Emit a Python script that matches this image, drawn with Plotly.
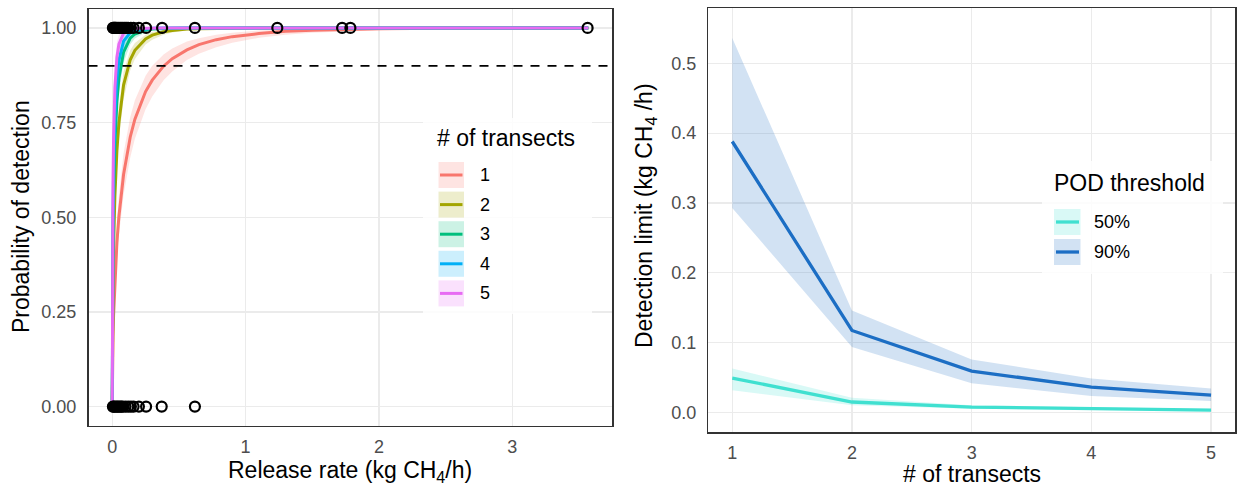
import plotly.graph_objects as go

# ---------------- data ----------------
# Left panel: fitted probability of detection vs release rate (kg CH4/h)
rate_grid = [0, 0.001, 0.003, 0.006, 0.01, 0.02, 0.035, 0.05, 0.085, 0.135, 0.17, 0.25, 0.3,
             0.385, 0.45, 0.56, 0.65, 0.78, 0.9, 1.1, 1.3, 1.5, 2.0, 2.5, 3.0, 3.57]

pod_fit_1 = [0, .069, .127, .183, .239, .336, .433, .502, .613, .712, .759, .832, .862,
             .899, .919, .942, .956, .969, .977, .985, .991, .994, .998, .999, .9995, .9998]
pod_lo_1 = [0, .060, .110, .160, .210, .297, .387, .452, .559, .658, .707, .785, .819,
            .862, .885, .915, .932, .949, .961, .974, .982, .987, .994, .997, .9986, .9993]
pod_hi_1 = [0, .080, .145, .210, .272, .378, .483, .556, .669, .765, .809, .874, .900,
            .930, .946, .964, .973, .982, .987, .993, .9956, .9972, .9991, .9996, .9999, 1.0]

pod_fit_2 = [0, .132, .236, .332, .419, .557, .676, .750, .849, .916, .941, .971, .981,
             .990, .993, .997, .998, .999, .9994, .9998, 1, 1, 1, 1, 1, 1]
pod_lo_2 = [0, .118, .211, .299, .381, .512, .630, .706, .811, .888, .918, .956, .969,
            .982, .988, .993, .996, .998, .9986, .9994, .9997, 1, 1, 1, 1, 1]
pod_hi_2 = [0, .149, .264, .368, .461, .604, .723, .794, .884, .941, .960, .982, .989,
            .9945, .9966, .9985, .9991, .9996, .9998, 1, 1, 1, 1, 1, 1, 1]

pod_fit_3 = [0, .186, .324, .443, .546, .693, .806, .867, .936, .973, .984, .994, .997,
             .9987, .9993, .9997, 1, 1, 1, 1, 1, 1, 1, 1, 1, 1]
pod_lo_3 = [0, .164, .287, .398, .495, .641, .758, .826, .908, .956, .972, .9885, .993,
            .9968, .9981, .9992, .9996, 1, 1, 1, 1, 1, 1, 1, 1, 1]
pod_hi_3 = [0, .223, .380, .512, .619, .765, .865, .915, .965, .988, .9935, .9982, .9991,
            .9997, 1, 1, 1, 1, 1, 1, 1, 1, 1, 1, 1, 1]

pod_fit_4 = [0, .222, .379, .510, .617, .763, .864, .914, .965, .9875, .9933, .9981, .9991,
             .9997, 1, 1, 1, 1, 1, 1, 1, 1, 1, 1, 1, 1]
pod_lo_4 = [0, .191, .331, .452, .555, .703, .814, .874, .941, .975, .985, .995, .997,
            .9989, .9994, 1, 1, 1, 1, 1, 1, 1, 1, 1, 1, 1]
pod_hi_4 = [0, .276, .458, .600, .709, .843, .923, .957, .986, .9964, .9984, .9997, 1,
            1, 1, 1, 1, 1, 1, 1, 1, 1, 1, 1, 1, 1]

pod_fit_5 = [0, .276, .458, .600, .709, .843, .923, .957, .986, .9964, .9984, .9997, 1,
             1, 1, 1, 1, 1, 1, 1, 1, 1, 1, 1, 1, 1]
pod_lo_5 = [0, .235, .398, .532, .641, .785, .881, .927, .972, .991, .995, .9988, .9994,
            1, 1, 1, 1, 1, 1, 1, 1, 1, 1, 1, 1, 1]
pod_hi_5 = [0, .338, .542, .689, .793, .906, .962, .982, .996, .9992, .9997, 1, 1,
            1, 1, 1, 1, 1, 1, 1, 1, 1, 1, 1, 1, 1]

transect_labels = ["1", "2", "3", "4", "5"]

# observed release rates (detected = 1, not detected = 0)
rate_detected = [0.005, 0.01, 0.015, 0.02, 0.025, 0.03, 0.04, 0.05, 0.06, 0.07, 0.08, 0.09,
                 0.1, 0.11, 0.12, 0.14, 0.16, 0.2, 0.254, 0.374, 0.62, 1.238, 1.724, 1.786, 3.565]
rate_missed = [0.005, 0.01, 0.02, 0.03, 0.04, 0.05, 0.06, 0.07, 0.08, 0.1, 0.12, 0.14,
               0.16, 0.2, 0.254, 0.371, 0.62]

POD_THRESHOLD = 0.9

# Right panel: detection limit vs number of transects
n_transects = [1, 2, 3, 4, 5]
dl50 = [0.0495, 0.0152, 0.008, 0.0057, 0.0037]
dl50_lo = [0.032, 0.0104, 0.0055, 0.0038, 0.0022]
dl50_hi = [0.063, 0.0214, 0.0105, 0.0077, 0.0052]
dl90 = [0.388, 0.1176, 0.0594, 0.0366, 0.0252]
dl90_lo = [0.293, 0.094, 0.042, 0.0238, 0.0166]
dl90_hi = [0.536, 0.146, 0.076, 0.049, 0.0347]
pod_labels = ["50%", "90%"]

# ---------------- style ----------------
W, H = 1238, 488
FONT = "Liberation Sans, Arial, sans-serif"
hue = ["#F8766D", "#A3A500", "#00BF7D", "#00B0F6", "#E76BF3"]


def rgba(hexc, a):
    h = hexc.lstrip("#")
    r, g, b = int(h[0:2], 16), int(h[2:4], 16), int(h[4:6], 16)
    return f"rgba({r},{g},{b},{a})"


def px(x):
    return x / W


def py(y):
    return 1 - y / H


fits = [pod_fit_1, pod_fit_2, pod_fit_3, pod_fit_4, pod_fit_5]
los = [pod_lo_1, pod_lo_2, pod_lo_3, pod_lo_4, pod_lo_5]
his = [pod_hi_1, pod_hi_2, pod_hi_3, pod_hi_4, pod_hi_5]

fig = go.Figure()

# bands
for i in range(5):
    fig.add_trace(go.Scatter(
        x=rate_grid + rate_grid[::-1], y=his[i] + los[i][::-1],
        fill="toself", fillcolor=rgba(hue[i], 0.2), line=dict(width=0),
        mode="lines", hoverinfo="skip", xaxis="x", yaxis="y"))
# lines
for i in range(5):
    fig.add_trace(go.Scatter(
        x=rate_grid, y=fits[i], mode="lines",
        line=dict(color=hue[i], width=3), xaxis="x", yaxis="y"))
# points
marker_style = dict(symbol="circle-open", size=10, color="black", line=dict(width=2.2))
fig.add_trace(go.Scatter(
    x=rate_detected, y=[1] * len(rate_detected), mode="markers",
    marker=marker_style, xaxis="x", yaxis="y"))
fig.add_trace(go.Scatter(
    x=rate_missed, y=[0] * len(rate_missed), mode="markers",
    marker=marker_style, xaxis="x", yaxis="y"))

# right panel
c50, c90 = "#40E0D0", "#1C6EC4"
for lo, hi, col in [(dl50_lo, dl50_hi, c50), (dl90_lo, dl90_hi, c90)]:
    fig.add_trace(go.Scatter(
        x=n_transects + n_transects[::-1], y=hi + lo[::-1], fill="toself",
        fillcolor=rgba(col, 0.2), line=dict(width=0), mode="lines",
        hoverinfo="skip", xaxis="x2", yaxis="y2"))
for vals, col in [(dl50, c50), (dl90, c90)]:
    fig.add_trace(go.Scatter(
        x=n_transects, y=vals, mode="lines", line=dict(color=col, width=3.3),
        xaxis="x2", yaxis="y2"))

axis_common = dict(
    showgrid=True, gridcolor="#EBEBEB", gridwidth=1.2, zeroline=False,
    showline=True, mirror=True, linecolor="#333333", linewidth=1.5,
    ticks="outside", tickcolor="rgba(0,0,0,0)",
    tickfont=dict(family=FONT, size=18, color="#4D4D4D"),
)
XLEN, YLEN = 4, 7

shapes = []
annotations = []

# dashed threshold line
shapes.append(dict(type="line", xref="x domain", yref="y", x0=0, x1=1,
                   y0=POD_THRESHOLD, y1=POD_THRESHOLD,
                   line=dict(color="black", width=1.8, dash="9px,8px"), layer="above"))

# left legend
shapes.append(dict(type="rect", xref="paper", yref="paper", x0=px(423), x1=px(592),
                   y0=py(314), y1=py(118), fillcolor="rgba(255,255,255,0.85)",
                   line=dict(width=0), layer="above"))
annotations.append(dict(text="# of transects", xref="paper", yref="paper", x=px(435), y=py(138),
                        xanchor="left", yanchor="middle", showarrow=False,
                        font=dict(family=FONT, size=23, color="black")))
for i, lab in enumerate(transect_labels):
    top = 162 + 29.6 * i
    shapes.append(dict(type="rect", xref="paper", yref="paper", x0=px(438.5), x1=px(464),
                       y0=py(top + 26), y1=py(top), fillcolor=rgba(hue[i], 0.2),
                       line=dict(width=0), layer="above"))
    shapes.append(dict(type="line", xref="paper", yref="paper", x0=px(440), x1=px(462.5),
                       y0=py(top + 13), y1=py(top + 13),
                       line=dict(color=hue[i], width=3), layer="above"))
    annotations.append(dict(text=lab, xref="paper", yref="paper", x=px(478), y=py(top + 13),
                            xanchor="left", yanchor="middle", showarrow=False,
                            font=dict(family=FONT, size=18, color="black")))

# right legend
shapes.append(dict(type="rect", xref="paper", yref="paper", x0=px(1042), x1=px(1223),
                   y0=py(274), y1=py(161), fillcolor="rgba(255,255,255,0.85)",
                   line=dict(width=0), layer="above"))
annotations.append(dict(text="POD threshold", xref="paper", yref="paper", x=px(1052), y=py(183),
                        xanchor="left", yanchor="middle", showarrow=False,
                        font=dict(family=FONT, size=23, color="black")))
for i, (lab, col) in enumerate(zip(pod_labels, [c50, c90])):
    top = 209 + 30 * i
    shapes.append(dict(type="rect", xref="paper", yref="paper", x0=px(1054), x1=px(1080.5),
                       y0=py(top + 26), y1=py(top), fillcolor=rgba(col, 0.2),
                       line=dict(width=0), layer="above"))
    shapes.append(dict(type="line", xref="paper", yref="paper", x0=px(1056), x1=px(1079),
                       y0=py(top + 13), y1=py(top + 13),
                       line=dict(color=col, width=3.3), layer="above"))
    annotations.append(dict(text=lab, xref="paper", yref="paper", x=px(1092), y=py(top + 13),
                            xanchor="left", yanchor="middle", showarrow=False,
                            font=dict(family=FONT, size=18, color="black")))

# axis titles
title_font = dict(family=FONT, size=23, color="black")
annotations += [
    dict(text="Release rate (kg CH<sub>4</sub>/h)", xref="paper", yref="paper",
         x=px(350), y=py(471), xanchor="center", yanchor="middle", showarrow=False,
         font=title_font),
    dict(text="Probability of detection", xref="paper", yref="paper",
         x=px(21), y=py(217), xanchor="center", yanchor="middle", showarrow=False,
         textangle=-90, font=title_font),
    dict(text="# of transects", xref="paper", yref="paper",
         x=px(971.5), y=py(474), xanchor="center", yanchor="middle", showarrow=False,
         font=title_font),
    dict(text="Detection limit (kg CH<sub>4</sub> /h)", xref="paper", yref="paper",
         x=px(645), y=py(216), xanchor="center", yanchor="middle", showarrow=False,
         textangle=-90, font=title_font),
]

fig.update_layout(
    width=W, height=H, margin=dict(l=0, r=0, t=0, b=0),
    paper_bgcolor="white", plot_bgcolor="white", showlegend=False,
    font=dict(family=FONT),
    xaxis=dict(domain=[px(88.5), px(612)], range=[-0.178, 3.748], anchor="y",
               tickvals=[0, 1, 2, 3], ticklen=XLEN, **axis_common),
    yaxis=dict(domain=[py(425.5), py(9)], range=[-0.05, 1.05], anchor="x",
               tickvals=[0, 0.25, 0.5, 0.75, 1.0], tickformat=".2f", ticklen=YLEN,
               **axis_common),
    xaxis2=dict(domain=[px(708.3), px(1235)], range=[0.8, 5.2], anchor="y2",
                tickvals=n_transects, ticklen=XLEN, **axis_common),
    yaxis2=dict(domain=[py(432), py(8.3)], range=[-0.0277, 0.5786], anchor="x2",
                tickvals=[0, 0.1, 0.2, 0.3, 0.4, 0.5], tickformat=".1f", ticklen=YLEN,
                **axis_common),
    shapes=shapes, annotations=annotations,
)

fig.write_html(
    "out.html",
    config={"displayModeBar": False, "staticPlot": True},
    post_script="document.body.style.margin='0';document.body.style.overflow='hidden';",
)
